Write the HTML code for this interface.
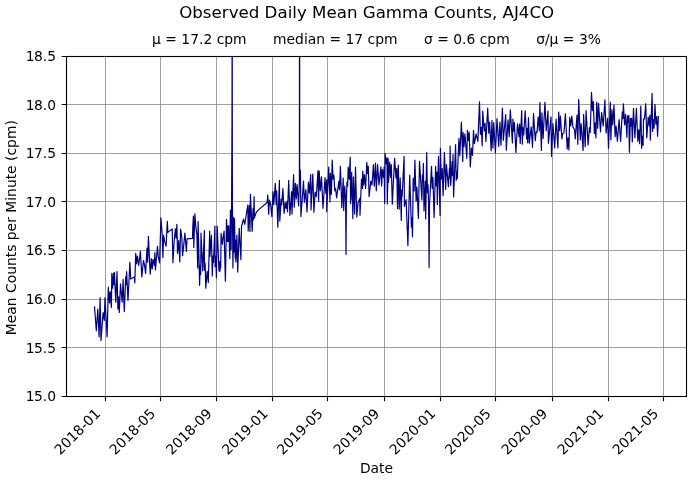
<!DOCTYPE html>
<html lang="en">
<head>
<meta charset="utf-8">
<title>Observed Daily Mean Gamma Counts, AJ4CO</title>
<style>
html,body{margin:0;padding:0;background:#fff;}
body{width:692px;height:482px;overflow:hidden;}
svg{display:block;}
svg text{font-family:"DejaVu Sans", "Liberation Sans", sans-serif;fill:#000;}
.t10{font-size:13.889px;}
.t12{font-size:16.667px;}
</style>
</head>
<body>
<svg width="692" height="482" viewBox="0 0 692 482">
<rect x="0" y="0" width="692" height="482" fill="#ffffff"/>
<path d="M105.50 396.50V56.50M160.50 396.50V56.50M216.50 396.50V56.50M272.50 396.50V56.50M327.50 396.50V56.50M384.50 396.50V56.50M440.50 396.50V56.50M495.50 396.50V56.50M552.50 396.50V56.50M608.50 396.50V56.50M663.50 396.50V56.50" fill="none" stroke="#808080" stroke-opacity="0.75" stroke-width="1"/>
<path d="M66.50 396.50H686.50M66.50 347.50H686.50M66.50 299.50H686.50M66.50 250.50H686.50M66.50 201.50H686.50M66.50 153.50H686.50M66.50 104.50H686.50M66.50 56.50H686.50" fill="none" stroke="#808080" stroke-opacity="0.75" stroke-width="1"/>
<path d="M105.50 396.50v4.861M160.50 396.50v4.861M216.50 396.50v4.861M272.50 396.50v4.861M327.50 396.50v4.861M384.50 396.50v4.861M440.50 396.50v4.861M495.50 396.50v4.861M552.50 396.50v4.861M608.50 396.50v4.861M663.50 396.50v4.861M66.50 396.50h-4.861M66.50 347.50h-4.861M66.50 299.50h-4.861M66.50 250.50h-4.861M66.50 201.50h-4.861M66.50 153.50h-4.861M66.50 104.50h-4.861M66.50 56.50h-4.861" fill="none" stroke="#000" stroke-width="1.111"/>
<defs><clipPath id="ax"><rect x="66.50" y="56.50" width="620.00" height="340.00"/></clipPath></defs>
<path clip-path="url(#ax)" d="M94.5 306.4L96.3 330.8L97.8 309.0L99.1 336.9L100.1 297.7L101.0 340.4L103.1 312.5L104.3 320.3L105.0 297.7L107.1 336.9L108.3 287.2L109.5 302.9L110.2 291.6L111.4 307.3L111.8 273.3L112.6 288.1L113.5 273.3L114.0 284.6L114.4 272.4L115.8 302.1L117.0 271.6L117.9 309.0L118.6 296.8L119.3 312.5L120.5 283.8L122.2 302.1L123.1 279.4L124.3 311.6L125.7 276.8L126.0 284.6L126.6 271.6L128.0 300.3L129.9 262.4L130.7 279.1L134.3 277.0L134.8 282.9L135.7 253.3L136.6 263.8L137.4 256.0L138.7 265.5L140.4 251.3L141.8 276.9L143.5 260.3L144.6 265.5L145.6 273.4L147.0 248.1L147.7 262.1L148.4 236.3L150.2 274.2L151.4 258.6L152.2 269.0L153.1 259.4L154.3 265.5L154.9 252.5L155.4 269.9L157.5 246.4L158.3 256.8L159.6 262.9L160.9 217.9L162.1 233.0L162.9 257.4L163.6 235.3L164.7 241.7L166.1 246.3L167.3 221.3L167.9 232.4L172.2 228.9L172.9 262.6L174.3 239.3L175.4 228.9L176.0 238.2L176.9 224.3L177.5 253.3L178.7 240.5L179.8 262.0L180.6 229.2L181.8 237.0L182.6 255.6L183.5 247.5L184.9 233.0L186.4 251.5L187.0 238.8L192.5 238.4L192.8 226.6L193.4 216.1L193.8 247.5L194.9 213.8L195.7 225.4L196.9 234.7L197.7 267.9L198.1 221.4L199.6 285.3L200.2 265.7L200.7 274.3L201.0 233.0L202.7 270.8L204.4 230.6L204.4 270.2L205.1 263.0L205.8 288.2L207.1 271.2L208.3 282.4L209.7 231.2L209.9 256.5L211.4 235.3L212.3 276.0L212.9 256.0L213.5 262.6L214.9 226.0L215.1 266.7L215.8 256.4L216.4 277.7L217.2 226.0L219.0 270.8L219.4 261.9L219.9 271.3L220.3 261.4L220.7 267.9L221.1 233.4L222.4 244.3L223.3 236.0L224.1 231.2L225.4 281.2L226.5 219.3L227.1 241.5L227.6 226.2L228.1 241.5L228.7 225.7L229.8 258.6L230.4 210.4L231.1 249.5L231.6 200.0L232.0 120.0L232.2 -50.0L232.3 120.0L232.4 200.0L232.9 268.0L233.7 217.5L234.2 252.0L234.5 218.5L235.2 258.0L235.5 240.0L235.9 262.0L236.9 235.2L237.7 272.1L239.2 228.3L240.9 259.6L241.5 226.5L243.5 219.2L244.8 224.4L246.9 210.5L247.8 205.2L248.2 230.9L249.3 205.5L250.0 231.5L250.4 194.4L252.2 231.4L253.0 208.7L253.5 219.6L254.1 196.7L254.4 218.0L255.2 215.5L256.3 212.3L258.7 209.6L267.1 202.5L267.8 195.0L268.7 214.1L269.5 200.2L270.7 204.8L271.9 216.6L273.0 191.5L273.8 204.8L275.3 183.4L276.2 204.8L276.7 190.9L277.8 227.2L279.4 180.4L279.8 221.0L281.2 199.0L281.7 204.8L282.9 188.6L284.1 213.5L285.2 202.5L286.1 208.3L287.0 201.3L287.5 211.8L288.7 180.4L289.9 215.3L291.6 191.5L292.0 214.1L293.6 174.6L294.3 207.2L295.4 183.4L296.2 199.0L297.1 184.5L298.6 206.0L299.4 180.0L299.6 -400.0L299.7 168.0L300.4 171.5L300.9 216.4L302.6 194.3L303.5 181.0L304.4 202.4L305.8 189.7L307.0 212.0L308.4 182.1L309.3 193.2L310.7 174.6L311.0 210.0L312.8 174.0L313.9 212.3L315.1 192.0L316.3 196.6L318.0 170.5L318.6 201.3L319.2 171.1L320.3 190.8L321.5 176.9L323.0 208.2L325.0 177.5L325.8 193.2L326.7 179.8L326.7 211.7L328.7 167.0L330.0 201.9L330.4 173.4L331.4 194.3L332.2 160.1L333.1 179.2L333.9 175.2L334.8 190.8L335.6 188.5L336.6 197.8L338.9 181.0L339.5 189.7L340.4 166.4L341.8 207.7L343.2 178.1L343.7 210.6L344.7 186.2L345.4 196.6L345.6 200.0L346.0 254.3L346.4 200.0L347.0 182.1L347.6 186.2L348.2 167.0L349.2 179.2L350.2 157.2L350.6 203.8L351.7 172.3L352.2 200.1L352.5 190.8L352.8 218.7L353.4 176.9L354.6 214.1L355.5 167.0L356.8 217.0L358.1 202.4L359.8 198.4L360.0 215.2L361.5 179.2L362.5 188.5L362.7 171.1L363.6 185.0L364.4 174.6L365.6 188.5L366.8 162.4L367.6 173.4L368.3 166.4L369.1 196.6L370.8 181.0L372.0 185.0L373.4 164.7L374.3 186.2L375.5 163.0L376.3 190.8L377.6 164.7L379.0 185.0L380.9 166.8L381.6 186.0L382.4 169.7L383.5 177.3L384.1 167.2L384.7 203.4L385.1 153.3L386.1 163.8L387.0 157.5L387.3 204.0L388.2 158.7L388.5 182.5L389.7 162.2L390.5 177.3L391.3 164.5L392.3 204.2L394.6 158.4L396.0 177.9L396.8 168.4L397.5 208.6L398.3 165.1L399.2 209.2L400.2 177.9L401.3 220.4L401.7 189.8L402.1 196.4L404.1 156.4L404.4 206.3L406.1 199.6L407.9 245.7L409.7 175.0L411.4 227.2L411.9 217.8L412.5 236.7L413.2 178.4L414.1 191.0L414.9 160.2L416.1 201.1L416.9 187.2L418.4 218.4L419.5 161.4L421.9 199.9L422.4 175.0L422.9 182.0L423.4 163.4L424.0 210.9L425.3 181.3L425.7 219.0L426.7 152.3L427.4 192.6L428.0 184.8L428.6 205.0L429.1 267.6L429.5 205.0L431.5 166.3L432.2 188.3L432.9 177.3L434.1 217.6L435.6 166.3L436.3 185.7L437.0 172.1L437.3 204.5L438.5 156.4L440.1 215.5L440.4 148.3L441.3 179.2L442.2 168.6L443.1 195.6L444.4 152.4L445.7 189.5L446.4 164.5L448.4 186.6L449.4 168.6L449.8 177.8L450.1 146.2L450.7 185.4L452.1 161.6L452.6 175.4L453.0 154.7L453.6 197.0L455.6 144.5L456.2 180.4L456.8 172.0L457.3 178.4L458.9 138.4L459.8 155.8L461.4 122.2L462.8 161.6L463.1 132.6L464.0 146.7L464.9 133.8L466.8 158.3L467.4 130.3L468.3 140.4L469.2 132.1L470.3 167.0L471.4 148.2L472.5 155.4L473.5 130.3L474.4 143.7L476.1 133.8L477.9 141.3L479.5 101.8L480.4 134.3L481.3 127.4L482.2 145.8L482.7 111.1L484.2 130.8L485.0 123.3L485.9 141.5L487.7 108.2L488.8 133.2L489.6 122.1L491.2 150.8L491.9 120.4L492.9 148.1L493.7 122.7L495.4 152.8L497.0 118.6L498.7 146.4L499.9 122.1L501.0 145.2L502.4 108.0L503.3 140.3L505.7 114.6L506.3 150.2L508.0 119.8L509.2 136.6L510.3 109.9L512.4 143.0L512.9 119.2L513.6 131.2L514.4 122.7L515.9 152.5L517.5 123.9L519.0 136.6L519.6 124.1L520.2 143.4L521.7 110.5L522.3 144.2L523.0 127.5L523.7 134.9L525.2 110.9L526.6 139.0L527.1 128.3L527.7 142.8L528.5 117.5L529.3 143.2L531.2 126.8L532.5 147.3L533.5 113.4L535.3 140.7L536.1 132.0L537.0 132.5L538.2 116.9L539.3 130.8L539.9 102.4L541.4 150.5L541.9 112.8L543.1 138.4L544.9 102.4L546.3 130.8L548.0 111.1L548.4 143.2L551.0 116.9L551.5 156.4L552.9 123.7L554.7 147.9L556.1 119.0L557.9 147.9L558.7 112.1L559.6 130.6L560.4 116.1L561.9 139.0L562.7 133.5L563.9 133.0L565.4 113.8L567.2 149.0L568.0 137.9L568.9 150.0L569.7 117.3L570.8 126.0L571.8 116.1L573.0 127.2L574.5 129.5L575.3 139.0L577.0 115.0L577.8 144.2L578.7 99.3L580.3 140.0L581.1 123.7L583.1 150.4L583.6 114.4L585.2 146.7L586.1 110.7L588.1 145.0L589.4 127.7L590.2 132.4L591.5 92.3L592.4 110.6L593.3 101.6L594.4 133.5L595.1 123.1L595.9 137.8L596.7 102.2L597.7 128.3L598.5 103.4L600.5 131.8L601.6 112.6L603.2 126.0L604.9 99.9L606.1 133.0L607.6 118.4L608.5 148.3L610.3 102.0L610.9 139.8L611.9 109.7L612.8 124.8L614.0 105.1L615.1 136.6L616.1 126.0L617.4 141.3L619.1 119.6L620.6 141.3L622.3 112.1L622.9 118.6L623.4 103.9L624.6 124.8L625.6 114.4L626.9 137.3L627.5 115.8L628.2 122.3L628.8 115.4L629.4 152.3L630.4 118.3L631.1 126.0L631.7 118.3L632.3 141.9L633.5 108.4L634.9 137.8L636.4 108.4L637.8 141.3L638.7 129.9L639.6 143.6L640.8 106.1L641.6 148.3L642.4 136.0L643.1 145.4L643.5 118.8L644.5 118.8L645.7 103.7L646.8 137.8L648.2 117.1L649.2 125.8L649.9 115.4L650.3 140.1L652.1 93.3L652.6 131.5L653.3 119.6L654.0 128.1L655.0 104.3L655.9 124.1L656.7 116.5L657.6 136.3L658.4 116.0" fill="none" stroke="#000080" stroke-width="1.200" stroke-linejoin="round" stroke-linecap="butt"/>
<rect x="66.50" y="56.50" width="620.00" height="340.00" fill="none" stroke="#000" stroke-width="1.111" stroke-linejoin="miter"/>
<text class="t10" x="25.87 34.01 42.85 47.26" y="401.10">15.0</text>
<text class="t10" x="25.87 34.01 42.85 47.26" y="352.53">15.5</text>
<text class="t10" x="25.87 34.01 42.85 47.26" y="303.96">16.0</text>
<text class="t10" x="25.87 34.01 42.85 47.26" y="255.39">16.5</text>
<text class="t10" x="25.87 34.01 42.85 47.26" y="206.81">17.0</text>
<text class="t10" x="25.87 34.01 42.85 47.26" y="158.24">17.5</text>
<text class="t10" x="25.87 34.01 42.85 47.26" y="109.67">18.0</text>
<text class="t10" x="25.87 34.01 42.85 47.26" y="61.10">18.5</text>
<text class="t10" transform="translate(60.20 455.5) rotate(-45)">2018-01</text>
<text class="t10" transform="translate(115.28 455.5) rotate(-45)">2018-05</text>
<text class="t10" transform="translate(171.73 455.5) rotate(-45)">2018-09</text>
<text class="t10" transform="translate(227.73 455.5) rotate(-45)">2019-01</text>
<text class="t10" transform="translate(282.81 455.5) rotate(-45)">2019-05</text>
<text class="t10" transform="translate(339.26 455.5) rotate(-45)">2019-09</text>
<text class="t10" transform="translate(395.26 455.5) rotate(-45)">2020-01</text>
<text class="t10" transform="translate(450.80 455.5) rotate(-45)">2020-05</text>
<text class="t10" transform="translate(507.25 455.5) rotate(-45)">2020-09</text>
<text class="t10" transform="translate(563.25 455.5) rotate(-45)">2021-01</text>
<text class="t10" transform="translate(618.33 455.5) rotate(-45)">2021-05</text>
<text class="t10" text-anchor="middle" x="376.5" y="472.87">Date</text>
<text class="t10" text-anchor="middle" transform="translate(15.60 227.70) rotate(-90)">Mean Counts per Minute (cpm)</text>
<text class="t10" text-anchor="middle" x="376.5" y="44" xml:space="preserve" style="white-space:pre">μ = 17.2 cpm      median = 17 cpm      σ = 0.6 cpm      σ/μ = 3%</text>
<text class="t12" text-anchor="middle" x="366.7" y="18">Observed Daily Mean Gamma Counts, AJ4CO</text>
</svg>
</body>
</html>
